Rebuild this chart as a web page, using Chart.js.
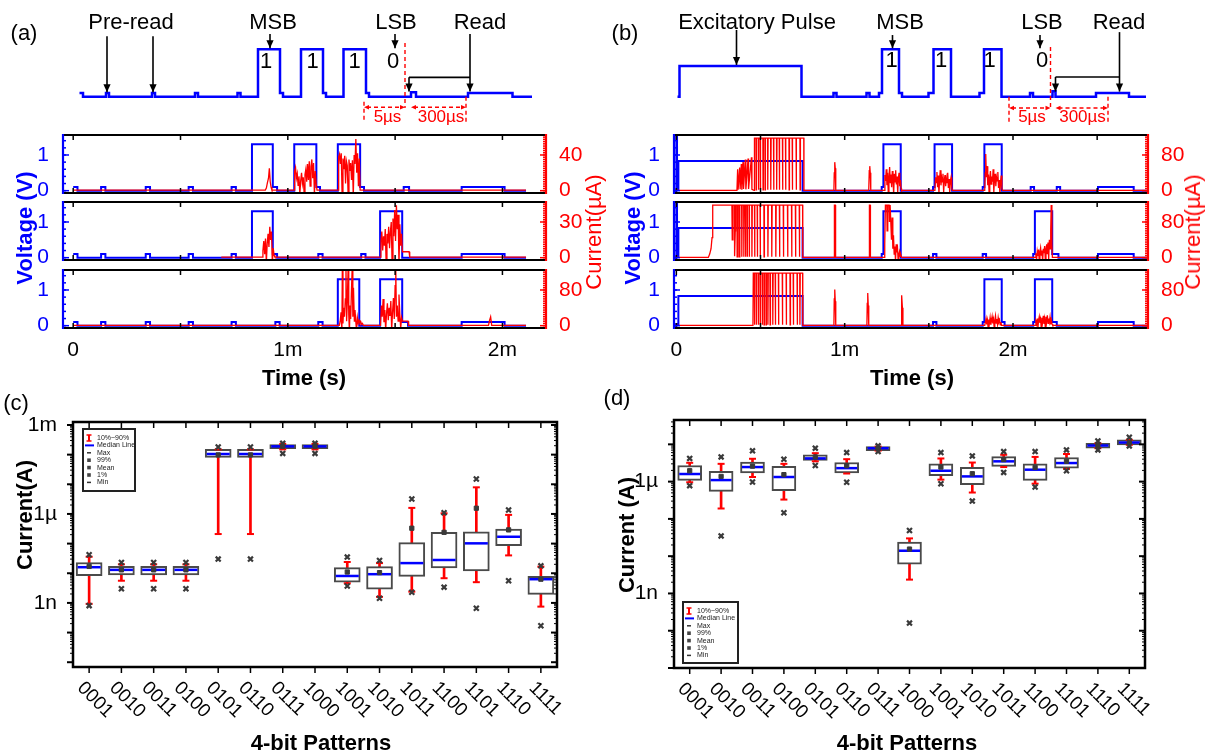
<!DOCTYPE html>
<html>
<head>
<meta charset="utf-8">
<script src="https://cdn.jsdelivr.net/npm/chart.js@4.4.1/dist/chart.umd.min.js"></script>
<style>
  body { margin: 0; background: #fff; }
  #page { position: relative; width: 1208px; height: 756px; overflow: hidden; background: #fff;
          font-family: "Liberation Sans", Arial, sans-serif; }
  canvas { position: absolute; }
  .lbl { position: absolute; white-space: nowrap; line-height: 1; transform: translate(-50%, -50%); }
</style>
</head>
<body>
<div id="page"></div>
<script>
// ---------- data ----------
// schematic waveforms (arbitrary time units, volts), step values hold until next point
const SCHEM_A = [[10.9,0.1],[11.6,0],[16.2,0.1],[16.8,0],[25.4,0.1],[26,0],[34,0.1],[34.6,0],[42.5,0.1],[43.1,0],
  [46.6,1.3],[51,0.1],[51.6,0],[55.2,1.3],[59.6,0.1],[60.2,0],[63.7,1.3],[68.2,0.1],[68.8,0],[77.2,0.12],[78.2,0],
  [88.6,0.1],[97.5,0],[101.4,0]];
const SCHEM_B = [[9.5,0],[9.9,0.84],[34.3,0],[40.7,0.1],[41.3,0],[47.3,0.1],[47.9,0],[49.8,0.1],[50.4,1.3],[53.8,0.1],
  [54.4,0],[59.7,0.1],[60.7,1.3],[64.2,0],[69.9,0.1],[70.8,1.3],[74.3,0],[80,0.1],[80.6,0],[84.5,0.15],[85.1,0],
  [93.2,0.1],[99.8,0],[103.2,0]];

// measured traces, time in ms, voltage in V (stepped), current in uA
const VOLT_A1 = [[0,0.1],[0.02,0],[0.13,0.1],[0.15,0],[0.338,0.1],[0.358,0],[0.538,0.1],[0.558,0],[0.738,0.1],[0.758,0],
  [0.833,1.3],[0.93,0.1],[0.95,0],[1.03,1.3],[1.133,0.1],[1.15,0],[1.233,1.3],[1.337,0.1],[1.355,0],[1.54,0.1],[1.565,0],
  [1.81,0.1],[2.01,0],[2.11,0]];
const VOLT_A2 = [[0,0.1],[0.02,0],[0.13,0.1],[0.15,0],[0.338,0.1],[0.358,0],[0.538,0.1],[0.558,0],[0.738,0.1],[0.758,0],
  [0.833,1.3],[0.93,0.1],[0.95,0],[1.142,0.1],[1.162,0],[1.342,0.1],[1.362,0],[1.43,1.3],[1.533,0],[1.81,0.1],[2.01,0],[2.11,0]];
const VOLT_A3 = [[0,0.1],[0.02,0],[0.13,0.1],[0.15,0],[0.338,0.1],[0.358,0],[0.538,0.1],[0.558,0],[0.738,0.1],[0.758,0],
  [0.942,0.1],[0.962,0],[1.142,0.1],[1.162,0],[1.233,1.3],[1.333,0],[1.43,1.3],[1.533,0.1],[1.56,0],[1.81,0.1],[2.01,0],[2.11,0]];
const CURR_A1 = [[0,0.6],[0.895,0.6],[0.9,3],[0.905,9],[0.91,14],[0.914,25],[0.918,10],[0.922,4],[0.926,0.6],
  [1.03,0.6],[1.032,22],[1.036,26],[1.04,14],[1.044,19],[1.048,6],[1.052,16],[1.056,-4],[1.06,11],[1.064,20],[1.068,8],
  [1.072,15],[1.076,-3],[1.08,18],[1.084,24],[1.088,10],[1.092,30],[1.096,12],[1.1,33],[1.104,5],[1.108,27],[1.112,35],
  [1.116,14],[1.12,31],[1.124,-5],[1.128,22],[1.132,8],[1.136,0.6],
  [1.234,0.6],[1.237,38],[1.241,41],[1.245,30],[1.249,42],[1.253,-6],[1.257,36],[1.261,24],[1.265,39],[1.269,8],[1.273,33],
  [1.277,28],[1.281,-5],[1.285,35],[1.289,22],[1.293,31],[1.297,12],[1.301,34],[1.305,-7],[1.309,40],[1.313,30],[1.317,58],
  [1.321,20],[1.325,42],[1.329,5],[1.333,36],[1.337,0.6],[2.11,0.6]];
const CURR_A2 = [[0.69,0.5],[0.88,0.5],[0.884,6],[0.888,14],[0.892,3],[0.896,16],[0.9,-4],[0.904,12],[0.908,20],[0.912,9],
  [0.916,26],[0.92,15],[0.924,22],[0.928,-5],[0.932,8],[0.936,2],[0.94,0.5],
  [1.432,0.5],[1.434,14],[1.438,22],[1.442,6],[1.446,18],[1.45,10],[1.454,24],[1.458,-4],[1.462,20],[1.466,12],[1.47,26],
  [1.474,8],[1.478,22],[1.482,30],[1.486,-6],[1.49,33],[1.494,18],[1.498,40],[1.502,14],[1.506,44],[1.51,24],[1.514,36],
  [1.518,-6],[1.522,28],[1.526,10],[1.53,20],[1.534,5],[1.565,5],[1.568,0.5],[2.11,0.5]];
const CURR_A3 = [[0,0.5],[1.24,0.5],[1.244,10],[1.248,30],[1.252,-12],[1.254,130],[1.257,5],[1.26,40],[1.264,20],[1.268,60],
  [1.271,130],[1.274,10],[1.277,50],[1.281,130],[1.284,25],[1.287,-14],[1.29,45],[1.293,15],[1.296,70],[1.3,130],[1.303,20],
  [1.306,85],[1.31,10],[1.313,35],[1.317,8],[1.32,-10],[1.324,18],[1.328,5],[1.332,12],[1.336,6],[1.34,9],[1.344,3],
  [1.348,5],[1.352,0.5],
  [1.432,0.5],[1.436,45],[1.44,20],[1.444,60],[1.448,8],[1.452,35],[1.456,-10],[1.46,28],[1.464,50],[1.468,12],[1.472,40],
  [1.476,22],[1.48,55],[1.484,-8],[1.488,30],[1.492,62],[1.496,15],[1.5,90],[1.503,130],[1.506,20],[1.51,45],[1.514,10],
  [1.518,70],[1.522,25],[1.526,-6],[1.53,18],[1.534,10],[1.56,10],[1.563,0.5],[1.935,0.5],[1.94,12],[1.945,20],[1.95,1],
  [2.11,0.5]];

const VOLT_B1 = [[-0.01,0],[0,1.6],[0.004,0.05],[0.012,0.83],[0.75,0],[1.22,0.1],[1.23,1.3],[1.333,0],[1.525,0.1],[1.534,1.3],
  [1.638,0],[1.82,0.1],[1.83,1.3],[1.933,0],[2.105,0.1],[2.125,0],[2.26,0.1],[2.28,0],[2.505,0.1],[2.717,0],[2.8,0]];
const VOLT_B2 = [[-0.01,0],[0,1.6],[0.004,0.05],[0.012,0.83],[0.75,0],[1.22,0.1],[1.23,1.3],[1.333,0],[1.525,0.1],[1.545,0],
  [1.82,0.1],[1.84,0],[2.12,0.1],[2.13,1.3],[2.233,0.1],[2.27,0],[2.505,0.1],[2.717,0],[2.8,0]];
const VOLT_B3 = [[-0.01,0],[0,0.05],[0.012,0.83],[0.75,0],[1.525,0.1],[1.545,0],[1.82,0.1],[1.83,1.3],[1.933,0.1],[1.95,0],
  [2.12,0.1],[2.13,1.3],[2.233,0.1],[2.26,0],[2.505,0.1],[2.717,0],[2.8,0]];
const CURR_B1 = [[-0.01,0.5],[0.36,0.5],[0.364,48],[0.367,2],[0.376,52],[0.379,3],[0.386,60],[0.389,2],[0.396,64],[0.399,4],
  [0.41,70],[0.413,3],[0.426,72],[0.429,4],[0.446,75],[0.449,3],[0.462,0.5],[0.464,118],
  [0.473,118],[0.474,2],[0.476,118],[0.487,118],[0.488,2],[0.49,118],[0.498,118],[0.499,2],[0.501,118],[0.514,118],[0.515,2],
  [0.517,118],[0.526,118],[0.527,2],[0.529,118],[0.542,118],[0.543,2],[0.545,118],[0.56,118],[0.561,2],[0.563,118],
  [0.577,118],[0.578,2],[0.58,118],[0.595,118],[0.596,2],[0.598,118],[0.611,118],[0.612,2],[0.614,118],[0.63,118],[0.631,2],
  [0.633,118],[0.648,118],[0.649,2],[0.651,118],[0.669,118],[0.67,2],[0.672,118],[0.688,118],[0.689,2],[0.691,118],
  [0.711,118],[0.712,2],[0.714,118],[0.734,118],[0.735,2],[0.737,118],[0.757,118],[0.758,0.5],
  [0.936,0.5],[0.938,40],[0.941,64],[0.944,50],[0.947,0.5],[1.143,0.5],[1.146,45],[1.149,55],[1.152,40],[1.155,0.5],
  [1.236,0.5],[1.239,35],[1.243,22],[1.247,48],[1.251,12],[1.255,40],[1.259,-6],[1.263,30],[1.267,53],[1.271,18],[1.275,36],
  [1.279,8],[1.283,44],[1.287,25],[1.291,-8],[1.295,38],[1.299,20],[1.303,46],[1.307,14],[1.311,32],[1.315,-5],[1.319,28],
  [1.323,40],[1.327,10],[1.331,24],[1.335,5],[1.338,0.5],
  [1.536,0.5],[1.54,30],[1.544,18],[1.548,42],[1.552,8],[1.556,34],[1.56,-6],[1.564,26],[1.568,46],[1.572,12],[1.576,30],
  [1.58,20],[1.584,38],[1.588,-4],[1.592,24],[1.596,35],[1.6,10],[1.604,28],[1.608,18],[1.612,40],[1.616,6],[1.62,26],
  [1.624,-5],[1.628,22],[1.632,30],[1.636,8],[1.64,0.5],
  [1.832,0.5],[1.835,40],[1.838,82],[1.842,30],[1.846,55],[1.85,12],[1.854,36],[1.858,-6],[1.862,28],[1.866,44],[1.87,15],
  [1.874,32],[1.878,20],[1.882,48],[1.886,-4],[1.89,26],[1.894,38],[1.898,10],[1.902,30],[1.906,22],[1.91,42],[1.914,6],
  [1.918,24],[1.922,-8],[1.926,20],[1.93,34],[1.934,6],[1.938,0.5],[2.8,0.5]];
const CURR_B2 = [[-0.01,0.5],[0.19,0.5],[0.198,8],[0.206,20],[0.212,45],[0.216,118],[0.33,118],[0.332,40],[0.336,118],
  [0.345,118],[0.346,3],[0.35,60],[0.352,118],[0.36,118],[0.361,2],[0.364,118],[0.372,118],[0.373,2],[0.376,50],[0.378,118],
  [0.388,118],[0.389,2],[0.391,118],[0.4,118],[0.401,2],[0.403,118],[0.41,118],[0.411,2],[0.413,118],[0.42,118],[0.421,2],
  [0.423,118],[0.432,118],[0.433,2],[0.435,118],[0.448,118],[0.449,2],[0.451,118],[0.464,118],[0.465,2],[0.467,118],
  [0.48,118],[0.481,2],[0.483,118],[0.497,118],[0.498,2],[0.5,118],[0.52,118],[0.521,2],[0.523,118],[0.543,118],[0.544,2],
  [0.546,118],[0.566,118],[0.567,2],[0.569,118],[0.59,118],[0.591,2],[0.593,118],[0.612,118],[0.613,2],[0.615,118],
  [0.635,118],[0.636,2],[0.638,118],[0.66,118],[0.661,2],[0.663,118],[0.684,118],[0.685,2],[0.687,118],[0.707,118],
  [0.708,2],[0.71,118],[0.73,118],[0.731,2],[0.733,118],[0.75,118],[0.751,0.5],
  [0.937,0.5],[0.939,118],[0.944,118],[0.946,0.5],[1.145,0.5],[1.147,118],[1.151,118],[1.153,0.5],
  [1.236,0.5],[1.238,30],[1.242,118],[1.25,118],[1.252,60],[1.256,118],[1.264,118],[1.266,80],[1.27,118],[1.275,118],
  [1.278,40],[1.282,90],[1.286,20],[1.29,50],[1.294,8],[1.298,25],[1.302,-8],[1.306,30],[1.31,12],[1.314,20],[1.318,-10],
  [1.322,8],[1.326,14],[1.33,3],[1.334,6],[1.338,0.5],
  [2.132,0.5],[2.136,10],[2.14,-6],[2.144,14],[2.148,4],[2.152,18],[2.156,-8],[2.16,12],[2.164,22],[2.168,6],[2.172,16],
  [2.176,-10],[2.18,20],[2.184,10],[2.188,26],[2.192,-6],[2.196,18],[2.2,30],[2.204,8],[2.208,34],[2.212,-4],[2.216,40],
  [2.22,20],[2.224,60],[2.227,118],[2.231,30],[2.234,0.5],[2.8,0.5]];
const CURR_B3 = [[-0.01,0.5],[0.455,0.5],[0.457,118],[0.463,118],[0.464,2],[0.466,118],[0.474,118],[0.475,2],[0.477,118],
  [0.486,118],[0.487,2],[0.489,118],[0.497,118],[0.498,2],[0.5,118],[0.509,118],[0.51,2],[0.512,118],[0.52,118],[0.521,2],
  [0.523,118],[0.532,118],[0.533,2],[0.535,118],[0.543,118],[0.544,2],[0.546,118],[0.556,118],[0.557,2],[0.559,118],
  [0.572,118],[0.573,2],[0.575,118],[0.587,118],[0.588,2],[0.59,118],[0.606,118],[0.607,2],[0.609,118],[0.629,118],
  [0.63,2],[0.632,118],[0.652,118],[0.653,2],[0.655,118],[0.675,118],[0.676,2],[0.678,118],[0.694,118],[0.695,2],
  [0.697,118],[0.717,118],[0.718,2],[0.72,118],[0.733,118],[0.734,2],[0.736,118],[0.75,118],[0.751,0.5],
  [0.936,0.5],[0.938,60],[0.941,81],[0.944,55],[0.947,0.5],[1.132,0.5],[1.134,50],[1.137,73],[1.14,45],[1.143,0.5],
  [1.335,0.5],[1.337,45],[1.34,68],[1.343,40],[1.346,0.5],
  [1.832,0.5],[1.836,8],[1.84,16],[1.844,3],[1.848,12],[1.852,-4],[1.856,14],[1.86,6],[1.864,18],[1.868,2],[1.872,10],
  [1.876,20],[1.88,5],[1.884,14],[1.888,-3],[1.892,12],[1.896,22],[1.9,6],[1.904,15],[1.908,3],[1.912,18],[1.916,8],
  [1.92,12],[1.924,2],[1.928,8],[1.932,0.5],
  [2.132,0.5],[2.136,10],[2.14,4],[2.144,16],[2.148,-5],[2.152,12],[2.156,20],[2.16,6],[2.164,14],[2.168,-6],[2.172,18],
  [2.176,9],[2.18,22],[2.184,4],[2.188,15],[2.192,-4],[2.196,20],[2.2,10],[2.204,23],[2.208,5],[2.212,16],[2.216,8],
  [2.22,19],[2.224,3],[2.228,12],[2.232,4],[2.236,0.5],[2.8,0.5]];

// box statistics per 4-bit pattern (A)
const PATTERNS = ['0001','0010','0011','0100','0101','0110','0111','1000','1001','1010','1011','1100','1101','1110','1111'];
const C_P99  = [4.2e-8,2.3e-8,2.3e-8,2.3e-8,1.8e-4,1.8e-4,2.4e-4,2.4e-4,3.5e-8,2.7e-8,3.2e-6,1.1e-6,1.5e-5,1.36e-6,1.78e-8];
const C_P90  = [3.6e-8,2.0e-8,2.0e-8,2.0e-8,1.5e-4,1.5e-4,2.3e-4,2.3e-4,2.4e-8,2.2e-8,1.6e-6,1.05e-6,7.9e-6,9.3e-7,1.67e-8];
const C_Q3   = [2.3e-8,1.7e-8,1.7e-8,1.7e-8,1.5e-4,1.5e-4,2.2e-4,2.2e-4,1.55e-8,1.67e-8,1.08e-7,2.4e-7,2.5e-7,3.1e-7,7.8e-9];
const C_MED  = [1.6e-8,1.3e-8,1.3e-8,1.3e-8,1.05e-4,1.05e-4,1.9e-4,1.9e-4,8.1e-9,9.3e-9,2.2e-8,2.8e-8,1.02e-7,1.7e-7,6.3e-9];
const C_MEAN = [1.7e-8,1.3e-8,1.3e-8,1.3e-8,9.8e-5,9.8e-5,1.9e-4,1.9e-4,1.1e-8,1.05e-8,3.3e-7,2.4e-7,1.56e-6,2.9e-7,6.3e-9];
const C_Q1   = [8.3e-9,8.8e-9,8.8e-9,8.8e-9,8.0e-5,8.0e-5,1.6e-4,1.6e-4,5.0e-9,2.9e-9,7.8e-9,1.5e-8,1.2e-8,8.5e-8,1.95e-9];
const C_P10  = [9.3e-10,5.6e-9,5.6e-9,5.6e-9,2.1e-7,2.1e-7,1.5e-4,1.5e-4,4.6e-9,1.6e-9,2.4e-9,6.8e-9,5.0e-9,4.0e-8,7.5e-10];
const C_P1   = [8.1e-10,3.0e-9,3.0e-9,3.0e-9,3.0e-8,3.0e-8,1.1e-4,1.1e-4,3.7e-9,1.44e-9,2.3e-9,3.4e-9,6.6e-10,5.6e-9,1.7e-10];

const D_P99  = [4.2e-6,4.6e-6,6.7e-6,4.0e-6,7.9e-6,6.0e-6,9.1e-6,4.9e-8,6.0e-6,4.9e-6,6.4e-6,6.4e-6,7.1e-6,1.23e-5,1.55e-5];
const D_P90  = [3.2e-6,3.0e-6,4.1e-6,3.0e-6,5.8e-6,4.0e-6,8.7e-6,3.0e-8,4.18e-6,3.25e-6,5.25e-6,4.6e-6,5.5e-6,1.07e-5,1.32e-5];
const D_Q3   = [2.7e-6,1.88e-6,3.35e-6,2.56e-6,5.25e-6,3.25e-6,8.7e-6,2.4e-8,3.0e-6,2.4e-6,4.7e-6,3.0e-6,4.45e-6,1.07e-5,1.32e-5];
const D_MED  = [1.6e-6,1.1e-6,2.46e-6,1.33e-6,4.2e-6,2.3e-6,7.9e-6,1.4e-8,1.96e-6,1.38e-6,3.5e-6,2.09e-6,3.15e-6,9.3e-6,1.12e-5];
const D_MEAN = [1.96e-6,1.38e-6,2.6e-6,1.54e-6,4.6e-6,2.67e-6,7.9e-6,1.55e-8,2.46e-6,1.63e-6,3.9e-6,2.4e-6,3.5e-6,9.3e-6,1.12e-5];
const D_Q1   = [1.08e-6,5.5e-7,1.7e-6,5.75e-7,3.7e-6,1.7e-6,6.8e-6,6.1e-9,1.45e-6,8.3e-7,2.56e-6,1.08e-6,2.3e-6,7.9e-6,9.7e-6];
const D_P10  = [9.6e-7,1.9e-7,1.33e-6,3.3e-7,3.5e-6,1.65e-6,6.8e-6,2.35e-9,1.13e-6,5.1e-7,2.46e-6,8.8e-7,2.2e-6,7.9e-6,9.7e-6];
const D_P1   = [7.8e-7,3.5e-8,9.8e-7,1.46e-7,2.7e-6,9.6e-7,6.4e-6,1.6e-10,8.8e-7,3.0e-7,1.77e-6,7.2e-7,1.96e-6,7.1e-6,9.1e-6];

// tick labels
const TIME_LABELS = { 0: '0', 1: '1m', 2: '2m' };
const LOG_LABELS_C = { '-3': '1m', '-6': '1\u00b5', '-9': '1n' };
const LOG_LABELS_D = { '-6': '1\u00b5', '-9': '1n' };
const LEGEND_ITEMS = ['10%~90%', 'Median Line', 'Max', '99%', 'Mean', '1%', 'Min'];

// ---------- helpers ----------
const FONT = '"Liberation Sans", Arial, sans-serif';
Chart.defaults.font.family = FONT;
Chart.defaults.color = '#000';
const page = document.getElementById('page');

function canvasAt(left, top, w, h) {
  const c = document.createElement('canvas');
  c.width = w; c.height = h;
  c.style.left = left + 'px'; c.style.top = top + 'px';
  c.style.width = w + 'px'; c.style.height = h + 'px';
  page.appendChild(c);
  return c;
}
function label(text, x, y, css) {
  const d = document.createElement('div');
  d.className = 'lbl';
  d.textContent = text;
  d.style.left = x + 'px';
  d.style.top = y + 'px';
  Object.assign(d.style, css || {});
  page.appendChild(d);
}
const xy = arr => arr.map(p => ({ x: p[0], y: p[1] }));
// stop chart.js from shrinking the plot area to make room for edge labels
const noPad = s => { s.paddingTop = 0; s.paddingBottom = 0; s.paddingLeft = 0; s.paddingRight = 0; };

function seg(ctx, x1, y1, x2, y2, color, w) {
  ctx.strokeStyle = color;
  if (w) ctx.lineWidth = w;
  ctx.beginPath(); ctx.moveTo(x1, y1); ctx.lineTo(x2, y2); ctx.stroke();
}
function head(ctx, x1, y1, x2, y2, color, size) {
  const a = Math.atan2(y2 - y1, x2 - x1);
  ctx.fillStyle = color;
  ctx.beginPath();
  ctx.moveTo(x2, y2);
  ctx.lineTo(x2 - size * Math.cos(a) + size * 0.45 * Math.sin(a), y2 - size * Math.sin(a) - size * 0.45 * Math.cos(a));
  ctx.lineTo(x2 - size * Math.cos(a) - size * 0.45 * Math.sin(a), y2 - size * Math.sin(a) + size * 0.45 * Math.cos(a));
  ctx.closePath(); ctx.fill();
}

// ---------- timing schematics ----------
function schematic(left, width, padL, padR, wave, notes) {
  const cv = canvasAt(left, 0, width, 130);
  const annot = {
    id: 'annot',
    afterDatasetsDraw(chart) {
      const { ctx } = chart;
      const X = t => chart.scales.x.getPixelForValue(t);
      const Y = v => chart.scales.y.getPixelForValue(v);
      ctx.save();
      ctx.lineWidth = 1.6;
      notes.arrows.forEach(a => { seg(ctx, X(a[0]), Y(a[1]), X(a[2]), Y(a[3]), '#000'); head(ctx, X(a[0]), Y(a[1]), X(a[2]), Y(a[3]), '#000', 8); });
      notes.lines.forEach(a => seg(ctx, X(a[0]), Y(a[1]), X(a[2]), Y(a[3]), '#000'));
      ctx.setLineDash([4, 3]);
      ctx.lineWidth = 1.4;
      notes.dashed.forEach(a => seg(ctx, X(a[0]), Y(a[1]), X(a[2]), Y(a[3]), '#ff0000'));
      notes.spans.forEach(a => {
        seg(ctx, X(a[0]) + 3, Y(a[1]), X(a[2]) - 3, Y(a[1]), '#ff0000');
        head(ctx, X(a[2]), Y(a[1]), X(a[0]), Y(a[1]), '#ff0000', 5);
        head(ctx, X(a[0]), Y(a[1]), X(a[2]), Y(a[1]), '#ff0000', 5);
      });
      ctx.setLineDash([]);
      ctx.textAlign = 'center'; ctx.textBaseline = 'middle';
      notes.texts.forEach(s => {
        ctx.fillStyle = s[3] || '#000';
        ctx.font = (s[4] || 22) + 'px ' + FONT;
        ctx.fillText(s[0], X(s[1]), Y(s[2]));
      });
      ctx.restore();
    }
  };
  return new Chart(cv, {
    type: 'line',
    data: { datasets: [{ data: xy(wave), borderColor: '#0000ff', borderWidth: 2.5, pointRadius: 0, stepped: true }] },
    options: {
      responsive: false, animation: false, events: [], devicePixelRatio: 1,
      layout: { padding: { left: padL, right: padR, top: 0, bottom: 0 } },
      plugins: { legend: { display: false }, tooltip: { enabled: false } },
      scales: {
        x: { type: 'linear', min: 0, max: 110, display: false },
        y: { type: 'linear', min: -0.912, max: 2.65, display: false }
      }
    },
    plugins: [annot]
  });
}

const RED = '#ff0000';
schematic(0, 600, 25, 25, SCHEM_A, {
  texts: [['Pre-read', 21.2, 2.02], ['MSB', 49.6, 2.02], ['LSB', 74.2, 2.02], ['Read', 91, 2.02],
          ['1', 48.2, 0.96], ['1', 57.5, 0.96], ['1', 65.9, 0.96], ['0', 73.6, 0.96],
          ['5\u00b5s', 72.5, -0.56, RED, 17], ['300\u00b5s', 83.2, -0.56, RED, 17]],
  arrows: [[16.4, 1.66, 16.4, 0.12], [25.6, 1.66, 25.6, 0.12], [49, 1.72, 49, 1.33], [74, 1.72, 74, 1.33],
           [89, 1.72, 89, 0.14], [76.8, 0.53, 76.8, 0.14]],
  lines: [[76.8, 0.53, 89, 0.53]],
  dashed: [[76, 1.47, 76, -0.31], [67.8, -0.14, 67.8, -0.69], [88.2, 0, 88.2, -0.69]],
  spans: [[67.8, -0.29, 76], [77.2, -0.29, 88.2]]
});
schematic(600, 608, 30, 28, SCHEM_B, {
  texts: [['Excitatory Pulse', 25.4, 2.02], ['MSB', 54, 2.02], ['LSB', 82.4, 2.02], ['Read', 97.8, 2.02],
          ['1', 52.3, 0.98], ['1', 62.2, 0.98], ['1', 71.9, 0.98], ['0', 82.4, 0.98],
          ['5\u00b5s', 80.4, -0.56, RED, 17], ['300\u00b5s', 90.5, -0.56, RED, 17]],
  arrows: [[21.3, 1.83, 21.3, 0.87], [52.5, 1.69, 52.5, 1.33], [82, 1.69, 82, 1.33],
           [97.9, 1.77, 97.9, 0.14], [85.1, 0.54, 85.1, 0.14]],
  lines: [[85.1, 0.54, 97.9, 0.54]],
  dashed: [[84.1, 1.36, 84.1, -0.36], [75.8, 0, 75.8, -0.69], [95.6, 0, 95.6, -0.69]],
  spans: [[75.8, -0.31, 84.1], [85.1, -0.31, 95.6]]
});

// ---------- stacked voltage / current traces ----------
const V_MIN = -0.065, V_MAX = 1.56;
const ROWS = [[135, 193], [202, 260], [270, 328]];

function traceFrame(yMinor, y2Minor) {
  return {
    id: 'traceFrame',
    afterDatasetsDraw(chart) {
      const { ctx, chartArea: a, scales: s } = chart;
      ctx.save();
      ctx.lineWidth = 1.5;
      s.x.ticks.forEach(t => {
        const x = s.x.getPixelForValue(t.value);
        seg(ctx, x, a.top, x, a.top + 5, '#000');
        seg(ctx, x, a.bottom, x, a.bottom - 5, '#000');
      });
      yMinor.forEach(v => { const y = s.y.getPixelForValue(v); seg(ctx, a.left, y, a.left + 3, y, '#0000ff'); });
      s.y.ticks.forEach(t => { const y = s.y.getPixelForValue(t.value); seg(ctx, a.left, y, a.left + 6, y, '#0000ff'); });
      y2Minor.forEach(v => { const y = s.y2.getPixelForValue(v); seg(ctx, a.right, y, a.right - 3, y, RED); });
      s.y2.ticks.forEach(t => { const y = s.y2.getPixelForValue(t.value); seg(ctx, a.right, y, a.right - 6, y, RED); });
      ctx.lineWidth = 2.2;
      seg(ctx, a.left, a.top, a.right, a.top, '#000');
      seg(ctx, a.left, a.bottom, a.right, a.bottom, '#000');
      seg(ctx, a.left, a.top - 1, a.left, a.bottom + 1, '#0000ff');
      seg(ctx, a.right, a.top - 1, a.right, a.bottom + 1, RED);
      ctx.restore();
    }
  };
}

function tracePlot(o) {
  const padTop = 12;
  const xh = o.bottomAxis ? 40 : 12;
  const h = (o.row[1] - o.row[0]) + padTop + xh;
  const cv = canvasAt(o.left, o.row[0] - padTop, o.width, h);
  const yMinor = [], y2Minor = [];
  for (let i = 0; i <= 7; i++) yMinor.push(i * 0.2);
  for (let i = 0; i <= 24; i++) if (i * o.k / 16 < V_MAX * o.k) y2Minor.push(i * o.k / 16);
  return new Chart(cv, {
    type: 'line',
    data: {
      datasets: [
        { data: xy(o.curr), yAxisID: 'y2', borderColor: RED, borderWidth: 1.3, pointRadius: 0, order: 0 },
        { data: xy(o.volt), yAxisID: 'y', borderColor: '#0000ff', borderWidth: 2, pointRadius: 0, stepped: true, order: 1 }
      ]
    },
    options: {
      responsive: false, animation: false, events: [], devicePixelRatio: 1,
      layout: { padding: { top: padTop, bottom: 0, left: 0, right: 0 } },
      plugins: { legend: { display: false }, tooltip: { enabled: false } },
      scales: {
        x: {
          type: 'linear', min: o.xMin, max: o.xMax,
          grid: { display: false }, border: { display: false },
          ticks: { display: o.bottomAxis, autoSkip: false, maxRotation: 0, padding: 2, font: { size: 21 },
                   callback: v => TIME_LABELS[v] ?? '' },
          afterBuildTicks: s => { s.ticks = o.xTicks.map(v => ({ value: v })); },
          afterFit: s => { s.height = xh; noPad(s); }
        },
        y: {
          position: 'left', min: V_MIN, max: V_MAX,
          grid: { display: false }, border: { display: false },
          ticks: { color: '#0000ff', padding: 6, font: { size: 21 } },
          afterBuildTicks: s => { s.ticks = [0, 1].map(v => ({ value: v })); },
          afterFit: s => { s.width = o.frameL - o.left; noPad(s); }
        },
        y2: {
          position: 'right', min: V_MIN * o.k, max: V_MAX * o.k,
          grid: { display: false }, border: { display: false },
          ticks: { color: RED, padding: 5, font: { size: 21 } },
          afterBuildTicks: s => { s.ticks = [0, o.k].map(v => ({ value: v })); },
          afterFit: s => { s.width = o.left + o.width - o.frameR; noPad(s); }
        }
      }
    },
    plugins: [traceFrame(yMinor, y2Minor)]
  });
}

const TICKS_A = [0, 0.5, 1, 1.5, 2];
const TICKS_B = [0, 0.5, 1, 1.5, 2, 2.5];
const PANEL_A = { left: 0, width: 620, frameL: 63, frameR: 546, xMin: -0.0475, xMax: 2.203, xTicks: TICKS_A };
const PANEL_B = { left: 610, width: 598, frameL: 674, frameR: 1148, xMin: -0.014, xMax: 2.802, xTicks: TICKS_B };
[[VOLT_A1, CURR_A1, 40], [VOLT_A2, CURR_A2, 30], [VOLT_A3, CURR_A3, 80]].forEach((r, i) =>
  tracePlot(Object.assign({}, PANEL_A, { row: ROWS[i], volt: r[0], curr: r[1], k: r[2], bottomAxis: i === 2 })));
[[VOLT_B1, CURR_B1, 80], [VOLT_B2, CURR_B2, 80], [VOLT_B3, CURR_B3, 80]].forEach((r, i) =>
  tracePlot(Object.assign({}, PANEL_B, { row: ROWS[i], volt: r[0], curr: r[1], k: r[2], bottomAxis: i === 2 })));

// ---------- box plots ----------
function drawLegend(ctx, x, y, w, h) {
  ctx.save();
  ctx.fillStyle = '#fff'; ctx.fillRect(x, y, w, h);
  ctx.lineWidth = 2; ctx.strokeStyle = '#222'; ctx.strokeRect(x, y, w, h);
  ctx.font = '7px ' + FONT; ctx.textBaseline = 'middle'; ctx.textAlign = 'left';
  LEGEND_ITEMS.forEach((t, i) => {
    const yy = y + 9 + i * 7.4, ix = x + 6;
    ctx.lineWidth = 1.5;
    if (i === 0) {
      seg(ctx, ix, yy - 3, ix, yy + 3, RED, 2);
      seg(ctx, ix - 2.5, yy - 3, ix + 2.5, yy - 3, RED, 1.5);
      seg(ctx, ix - 2.5, yy + 3, ix + 2.5, yy + 3, RED, 1.5);
    } else if (i === 1) {
      seg(ctx, ix - 4, yy, ix + 5, yy, '#0000ff', 2);
    } else if (i === 2 || i === 6) {
      seg(ctx, ix - 2, yy, ix + 2, yy, '#333', 1.5);
    } else {
      ctx.fillStyle = '#444'; ctx.fillRect(ix - 1.8, yy - 1.8, 3.6, 3.6);
    }
    ctx.fillStyle = '#222';
    ctx.fillText(t, x + 14, yy);
  });
  ctx.restore();
}

function boxFrame(decades, legendAt) {
  return {
    id: 'boxFrame',
    afterDraw(chart) {
      const { ctx, chartArea: a, scales: s } = chart;
      ctx.save();
      ctx.lineWidth = 1.5;
      PATTERNS.forEach((p, i) => {
        const x = s.x.getPixelForValue(i);
        seg(ctx, x, a.top, x, a.top + 6, '#000');
        seg(ctx, x, a.bottom, x, a.bottom + 6, '#000');
      });
      decades.forEach(d => {
        const y = s.y.getPixelForValue(d);
        seg(ctx, a.left, y, a.left - 6, y, '#000', 2);
        seg(ctx, a.right, y, a.right - 6, y, '#000', 2);
        for (let m = 2; m <= 9; m++) {
          const v = d * m;
          if (v > s.y.max) break;
          const yy = s.y.getPixelForValue(v);
          seg(ctx, a.left, yy, a.left - 3, yy, '#000', 1);
          seg(ctx, a.right, yy, a.right - 3, yy, '#000', 1);
        }
      });
      ctx.lineWidth = 2.5; ctx.strokeStyle = '#000';
      ctx.strokeRect(a.left, a.top, a.right - a.left, a.bottom - a.top);
      ctx.fillStyle = '#000';
      ctx.font = '19px ' + FONT;
      ctx.textAlign = 'left'; ctx.textBaseline = 'middle';
      PATTERNS.forEach((p, i) => {
        const x = s.x.getPixelForValue(i);
        ctx.save();
        ctx.translate(x - 9, a.bottom + 18);
        ctx.rotate(Math.PI / 4);
        ctx.fillText(p, 0, 0);
        ctx.restore();
      });
      const L = legendAt(a);
      drawLegend(ctx, L.x, L.y, L.w, L.h);
      ctx.restore();
    }
  };
}

function boxPlot(o) {
  const cv = canvasAt(o.left, o.top, o.width, o.height);
  const st = o.stats;
  const pts = (data, style, r, color, w, fill) => ({
    type: 'line', data, showLine: false, pointStyle: style, pointRadius: r,
    borderColor: color, backgroundColor: fill || color, borderWidth: w, order: 1
  });
  return new Chart(cv, {
    type: 'bar',
    data: {
      labels: PATTERNS,
      datasets: [
        { data: st.p10.map((v, i) => [v, st.p90[i]]), backgroundColor: RED, barThickness: 2, grouped: false, order: 6 },
        { data: st.q1.map((v, i) => [v, st.q3[i]]), backgroundColor: '#fff', borderColor: '#4a4a4a', borderWidth: 2,
          borderSkipped: false, barThickness: o.boxW, grouped: false, order: 5 },
        Object.assign(pts(st.med, 'line', o.boxW / 2 - 1.5, '#0000ff', 2.5), { order: 4 }),
        Object.assign(pts(st.p90, 'line', 3.5, RED, 2), { order: 3 }),
        Object.assign(pts(st.p10, 'line', 3.5, RED, 2), { order: 3 }),
        pts(st.mean, 'rect', 3, '#3a3a3a', 1),
        pts(st.p99, 'crossRot', 3.5, '#3a3a3a', 2.2),
        pts(st.p1, 'crossRot', 3.5, '#3a3a3a', 2.2)
      ]
    },
    options: {
      responsive: false, animation: false, events: [], devicePixelRatio: 1,
      layout: { padding: { top: o.frame.t - o.top, right: o.left + o.width - o.frame.r, left: 0, bottom: 0 } },
      plugins: { legend: { display: false }, tooltip: { enabled: false } },
      scales: {
        x: {
          type: 'category', offset: true,
          grid: { display: false }, border: { display: false }, ticks: { display: false },
          afterFit: s => { s.height = o.top + o.height - o.frame.b; noPad(s); }
        },
        y: {
          type: 'logarithmic', min: o.yMin, max: o.yMax,
          grid: { display: false }, border: { display: false },
          ticks: { padding: 8, font: { size: 21 }, callback: v => o.yLabels[Math.round(Math.log10(v))] || '' },
          afterBuildTicks: s => { s.ticks = o.decades.map(v => ({ value: v })); },
          afterFit: s => { s.width = o.frame.l - o.left; noPad(s); }
        }
      }
    },
    plugins: [boxFrame(o.decades, o.legendAt)]
  });
}

boxPlot({
  left: 0, top: 400, width: 600, height: 356,
  frame: { l: 73, r: 557, t: 422, b: 667 },
  yMin: 6.9e-12, yMax: 1.26e-3, boxW: 26,
  decades: [1e-11, 1e-10, 1e-9, 1e-8, 1e-7, 1e-6, 1e-5, 1e-4, 1e-3],
  yLabels: LOG_LABELS_C,
  stats: { p99: C_P99, p90: C_P90, q3: C_Q3, med: C_MED, mean: C_MEAN, q1: C_Q1, p10: C_P10, p1: C_P1 },
  legendAt: a => ({ x: a.left + 10, y: a.top + 7, w: 52, h: 62 })
});
boxPlot({
  left: 604, top: 400, width: 604, height: 356,
  frame: { l: 674, r: 1145, t: 420, b: 668 },
  yMin: 1e-11, yMax: 4.5e-5, boxW: 24,
  decades: [1e-11, 1e-10, 1e-9, 1e-8, 1e-7, 1e-6, 1e-5],
  yLabels: LOG_LABELS_D,
  stats: { p99: D_P99, p90: D_P90, q3: D_Q3, med: D_MED, mean: D_MEAN, q1: D_Q1, p10: D_P10, p1: D_P1 },
  legendAt: a => ({ x: a.left + 9, y: a.bottom - 66, w: 55, h: 61 })
});

// ---------- titles ----------
const BOLD = { fontWeight: 'bold', fontSize: '22px' };
label('(a)', 24, 33, { fontSize: '22px' });
label('(b)', 625, 33, { fontSize: '22px' });
label('(c)', 16, 403, { fontSize: '22px' });
label('(d)', 617, 398, { fontSize: '22px' });
label('Time (s)', 304, 378, BOLD);
label('Time (s)', 912, 378, BOLD);
const ROT = 'translate(-50%, -50%) rotate(-90deg)';
label('Voltage (V)', 25, 228, Object.assign({ color: '#0000ff', transform: ROT }, BOLD));
label('Voltage (V)', 633, 228, Object.assign({ color: '#0000ff', transform: ROT }, BOLD));
label('Current(\u00b5A)', 594, 232, { color: RED, fontSize: '22px', transform: ROT });
label('Current(\u00b5A)', 1193, 232, { color: RED, fontSize: '22px', transform: ROT });
label('Current(A)', 25, 515, Object.assign({ transform: ROT }, BOLD));
label('Current (A)', 627, 535, Object.assign({ transform: ROT }, BOLD));
label('4-bit Patterns', 321, 743, BOLD);
label('4-bit Patterns', 907, 743, BOLD);
</script>
</body>
</html>
